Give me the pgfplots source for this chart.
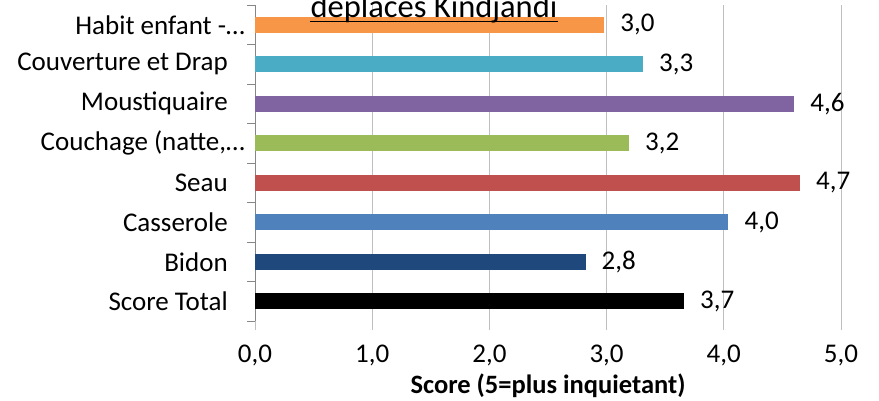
\documentclass[border=0pt]{standalone}
\usepackage{fontspec}
\setmainfont{Carlito}
\usepackage{pgfplots}
\pgfplotsset{compat=1.18}
\definecolor{cOrange}{HTML}{F79646}
\definecolor{cAqua}{HTML}{4BACC6}
\definecolor{cPurple}{HTML}{8064A2}
\definecolor{cGreen}{HTML}{9BBB59}
\definecolor{cRed}{HTML}{C0504D}
\definecolor{cBlue}{HTML}{4F81BD}
\definecolor{cDark}{HTML}{1F497D}
\definecolor{cGrid}{HTML}{BFBFBF}
\definecolor{cAxis}{HTML}{868686}
\newcommand{\pad}{\hspace*{17bp}}
\begin{document}
\begin{tikzpicture}
\begin{axis}[
  at={(0,0)}, anchor=south west,
  scale only axis, width=586bp, height=316bp,
  xbar, bar width=16bp, bar shift=0pt,
  xmin=0, xmax=5, ymin=-0.5, ymax=7.5,
  xtick={0,1,2,3,4,5},
  ytick={0,...,7},
  minor ytick={-0.5,0.5,...,7.5},
  yticklabels={Score Total\pad, Bidon\pad, Casserole\pad, Seau\pad, {Couchage (natte,…}, Moustiquaire\pad, Couverture et Drap\pad, Habit enfant -…},
  axis y line*=left, axis x line*=bottom,
  x axis line style={draw=none},
  y axis line style={draw=cAxis, line width=0.8bp},
  xmajorgrids, grid style={draw=cGrid, line width=0.8bp},
  tick align=outside,
  major tick length=9bp, minor tick length=8bp,
  major x tick style={draw=cGrid, line width=0.8bp},
  major y tick style={draw=none},
  minor y tick style={draw=cAxis, line width=0.8bp},
  /pgf/number format/.cd, use comma, fixed, fixed zerofill, precision=1, assume math mode=true,
  /pgfplots/.cd,
  ticklabel style={font=\fontsize{27bp}{31bp}\selectfont},
  xticklabel style={anchor=north, inner sep=0pt, yshift=-15bp},
  yticklabel style={anchor=east, inner sep=0pt, xshift=-1bp},
  xlabel={\textbf{Score (5=plus inquietant)}},
  xlabel style={font=\fontsize{26.5bp}{30bp}\selectfont, anchor=base, at={(axis description cs:0.5,0)}, yshift=-72bp},
  point meta=x,
  nodes near coords,
  nodes near coords style={font=\fontsize{27bp}{31bp}\selectfont, anchor=west, inner sep=0pt, xshift=16bp, text=black},
  every axis plot/.append style={draw=none},
]
\addplot[fill=black] coordinates {(3.66,0)};
\addplot[fill=cDark] coordinates {(2.82,1)};
\addplot[fill=cBlue] coordinates {(4.04,2)};
\addplot[fill=cRed] coordinates {(4.65,3)};
\addplot[fill=cGreen] coordinates {(3.19,4)};
\addplot[fill=cPurple] coordinates {(4.60,5)};
\addplot[fill=cAqua] coordinates {(3.31,6)};
\addplot[fill=cOrange] coordinates {(2.98,7)};
\end{axis}
\node[font=\fontsize{32.5bp}{36bp}\selectfont, anchor=base, inner sep=0pt] (t) at (179bp,303bp) {deplaces Kindjandi};
\draw[line width=1.8bp] ([yshift=-3.5bp]t.base west) -- ([yshift=-3.5bp]t.base east);
\pgfresetboundingbox
\path (-255bp,-80bp) rectangle (624bp,321bp);
\end{tikzpicture}
\end{document}
